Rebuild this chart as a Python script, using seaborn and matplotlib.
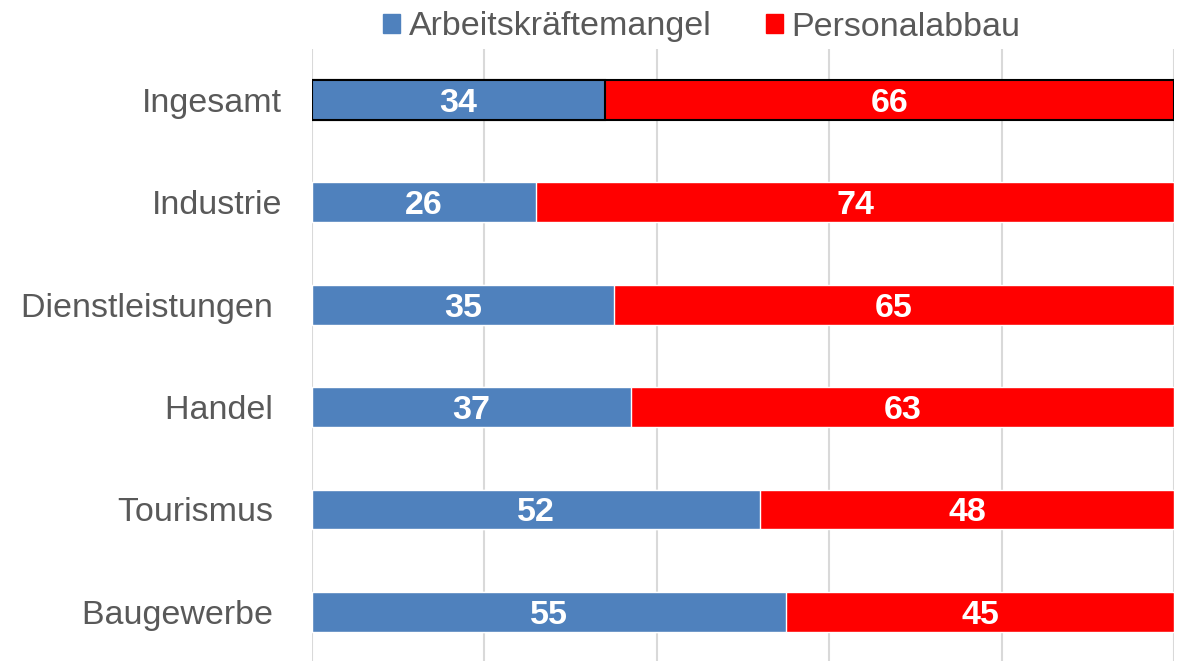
import pandas as pd
import matplotlib.pyplot as plt
import seaborn as sns

# ---------------------------
# Data
# ---------------------------
categories = ["Ingesamt", "Industrie", "Dienstleistungen ", "Handel ", "Tourismus ", "Baugewerbe "]
arbeitskraeftemangel = [34, 26, 35, 37, 52, 55]
personalabbau = [66, 74, 65, 63, 48, 45]

df = pd.DataFrame({
    "Kategorie": categories,
    "Arbeitskräftemangel": arbeitskraeftemangel,
    "Personalabbau": personalabbau,
})
df["Gesamt"] = df["Arbeitskräftemangel"] + df["Personalabbau"]

BLUE = "#4F81BD"
RED = "#FF0000"
GREY = "#595959"

sns.set_style("white")
plt.rcParams["font.family"] = ["Liberation Sans", "DejaVu Sans"]

fig = plt.figure(figsize=(11.78, 6.61), dpi=100)
ax = fig.add_axes([312 / 1178, -0.003, (1174 - 312) / 1178, 0.929])

# red (full length) underneath, blue on top
sns.barplot(data=df, y="Kategorie", x="Gesamt", color=RED, width=0.39,
            orient="h", ax=ax, saturation=1, zorder=2)
sns.barplot(data=df, y="Kategorie", x="Arbeitskräftemangel", color=BLUE, width=0.39,
            orient="h", ax=ax, saturation=1, zorder=3)

# black frame around "Ingesamt"
n = len(categories)
for patch in [ax.patches[0], ax.patches[n]]:
    patch.set_edgecolor("black")
    patch.set_linewidth(1.5)

# value labels
for i, (a, p) in enumerate(zip(arbeitskraeftemangel, personalabbau)):
    ax.text(a / 2, i, str(a), ha="center", va="center_baseline", color="white",
            fontsize=24.5, fontweight="bold", zorder=5)
    ax.text(a + p / 2, i, str(p), ha="center", va="center_baseline", color="white",
            fontsize=24.5, fontweight="bold", zorder=5)

ax.set_xlim(0, 100)
ax.set_ylim(n - 0.5, -0.5)
ax.set_xticks(range(0, 101, 20))
ax.xaxis.grid(True, color="#D9D9D9", linewidth=1.5, zorder=0)
ax.set_axisbelow(True)
ax.tick_params(axis="x", bottom=False, labelbottom=False)
ax.tick_params(axis="y", left=False, labelsize=24.5, labelcolor=GREY, pad=18)
ax.set_xlabel("")
ax.set_ylabel("")
for s in ax.spines.values():
    s.set_visible(False)

# legend
handles = [plt.Rectangle((0, 0), 1, 1, color=BLUE), plt.Rectangle((0, 0), 1, 1, color=RED)]
fig.legend(handles, ["Arbeitskräftemangel", "Personalabbau"], loc="center",
           bbox_to_anchor=(702 / 1178, 1 - 27 / 661), ncol=2, frameon=False,
           fontsize=24.5, labelcolor=GREY, handlelength=0.5, handleheight=0.5,
           handletextpad=0.25, columnspacing=1.6)

plt.savefig("out.png", dpi=100)
